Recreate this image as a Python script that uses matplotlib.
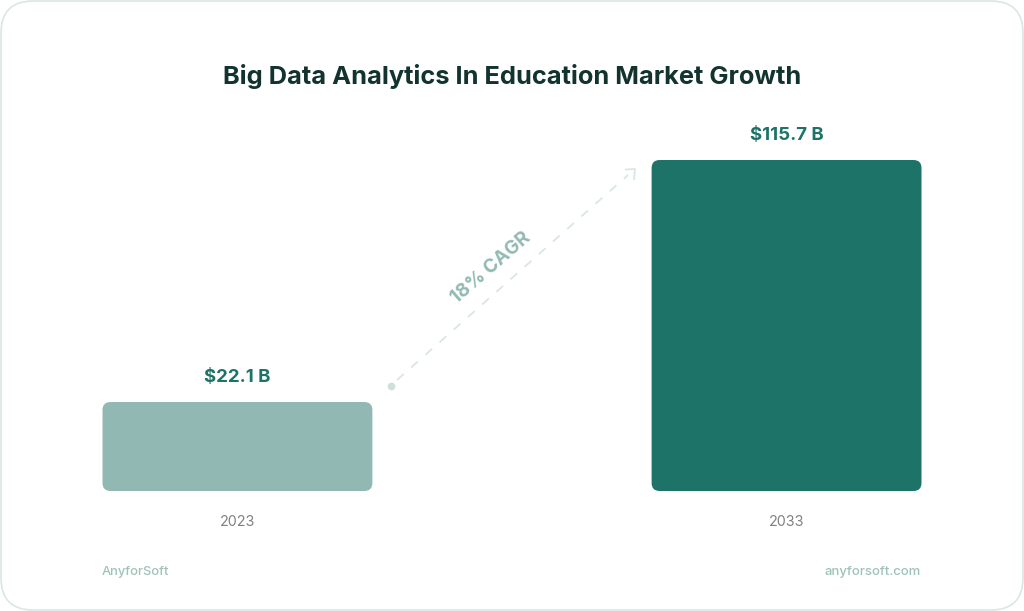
import matplotlib
matplotlib.use("Agg")
import matplotlib.pyplot as plt
from matplotlib.patches import FancyBboxPatch
from matplotlib.transforms import IdentityTransform

plt.rcParams['font.family'] = ['Inter', 'DejaVu Sans']

categories = ["2023", "2033"]
value_labels = ["$22.1 B", "$115.7 B"]
# drawn heights, the short bar is not to scale with its label
bar_heights = [31.1, 115.7]
bar_colors = ["#92b8b3", "#1e7369"]
title = "Big Data Analytics In Education Market Growth"
cagr_label = "18% CAGR"
footer_left = "AnyforSoft"
footer_right = "anyforsoft.com"

W, H = 1024, 611
fig = plt.figure(figsize=(W / 100, H / 100), dpi=100, facecolor="white")

# full figure axes in image pixels, for the card and the annotations
page = fig.add_axes([0, 0, 1, 1])
page.set_xlim(0, W)
page.set_ylim(H, 0)
page.axis("off")

page.add_patch(FancyBboxPatch((1, 1), W - 2, H - 2, boxstyle="round,pad=0,rounding_size=32",
                              facecolor="white", edgecolor="#d8e8e4", linewidth=1.2))

# bar axes: baseline at y=491, top bar at y=160
ax = fig.add_axes([102.5 / W, (H - 491) / H, (921.5 - 102.5) / W, (491 - 160) / H])
ax.patch.set_alpha(0)
ax.axis("off")
bar_w = 0.4915
ax.set_xlim(-bar_w / 2, 1 + bar_w / 2)
ax.set_ylim(0, max(bar_heights))

fig.canvas.draw()
for i, h in enumerate(bar_heights):
    x0, y0 = ax.transData.transform((i - bar_w / 2, 0))
    x1, y1 = ax.transData.transform((i + bar_w / 2, h))
    ax.add_patch(FancyBboxPatch((x0, y0), x1 - x0, y1 - y0, boxstyle="round,pad=0,rounding_size=8",
                                facecolor=bar_colors[i], edgecolor="none",
                                transform=IdentityTransform(), clip_on=False))
    ax.annotate(value_labels[i].replace("$", r"\$"), (i, h), xytext=(0, 16), textcoords="offset pixels",
                ha="center", va="bottom", fontsize=13.4, fontweight="bold", color="#1e7369")
    ax.annotate(categories[i], (i, 0), xytext=(0, -31), textcoords="offset pixels",
                ha="center", va="center", fontsize=10.3, color="#808080")

page.text(512, 76.5, title, ha="center", va="center", fontsize=18.3, fontweight="bold", color="#12332e")

# dashed growth arrow
page.plot([397, 628], [380, 175], color="#d9e7e4", lw=1.3, dashes=(5, 5.5))
page.plot([391], [385.5], "o", color="#cfe0dc", ms=4.5)
page.plot([626, 635, 634], [169.5, 169, 179], color="#d9e7e4", lw=1.3)
page.text(491, 268, cagr_label, rotation=41, rotation_mode="anchor", ha="center", va="center",
          fontsize=13.6, fontweight="bold", color="#92bab3")

page.text(102, 572, footer_left, ha="left", va="center", fontsize=9.3, fontweight="medium", color="#9cc2ba")
page.text(921, 572, footer_right, ha="right", va="center", fontsize=9.4, fontweight="medium", color="#9cc2ba")

fig.savefig("out.png", dpi=100)
